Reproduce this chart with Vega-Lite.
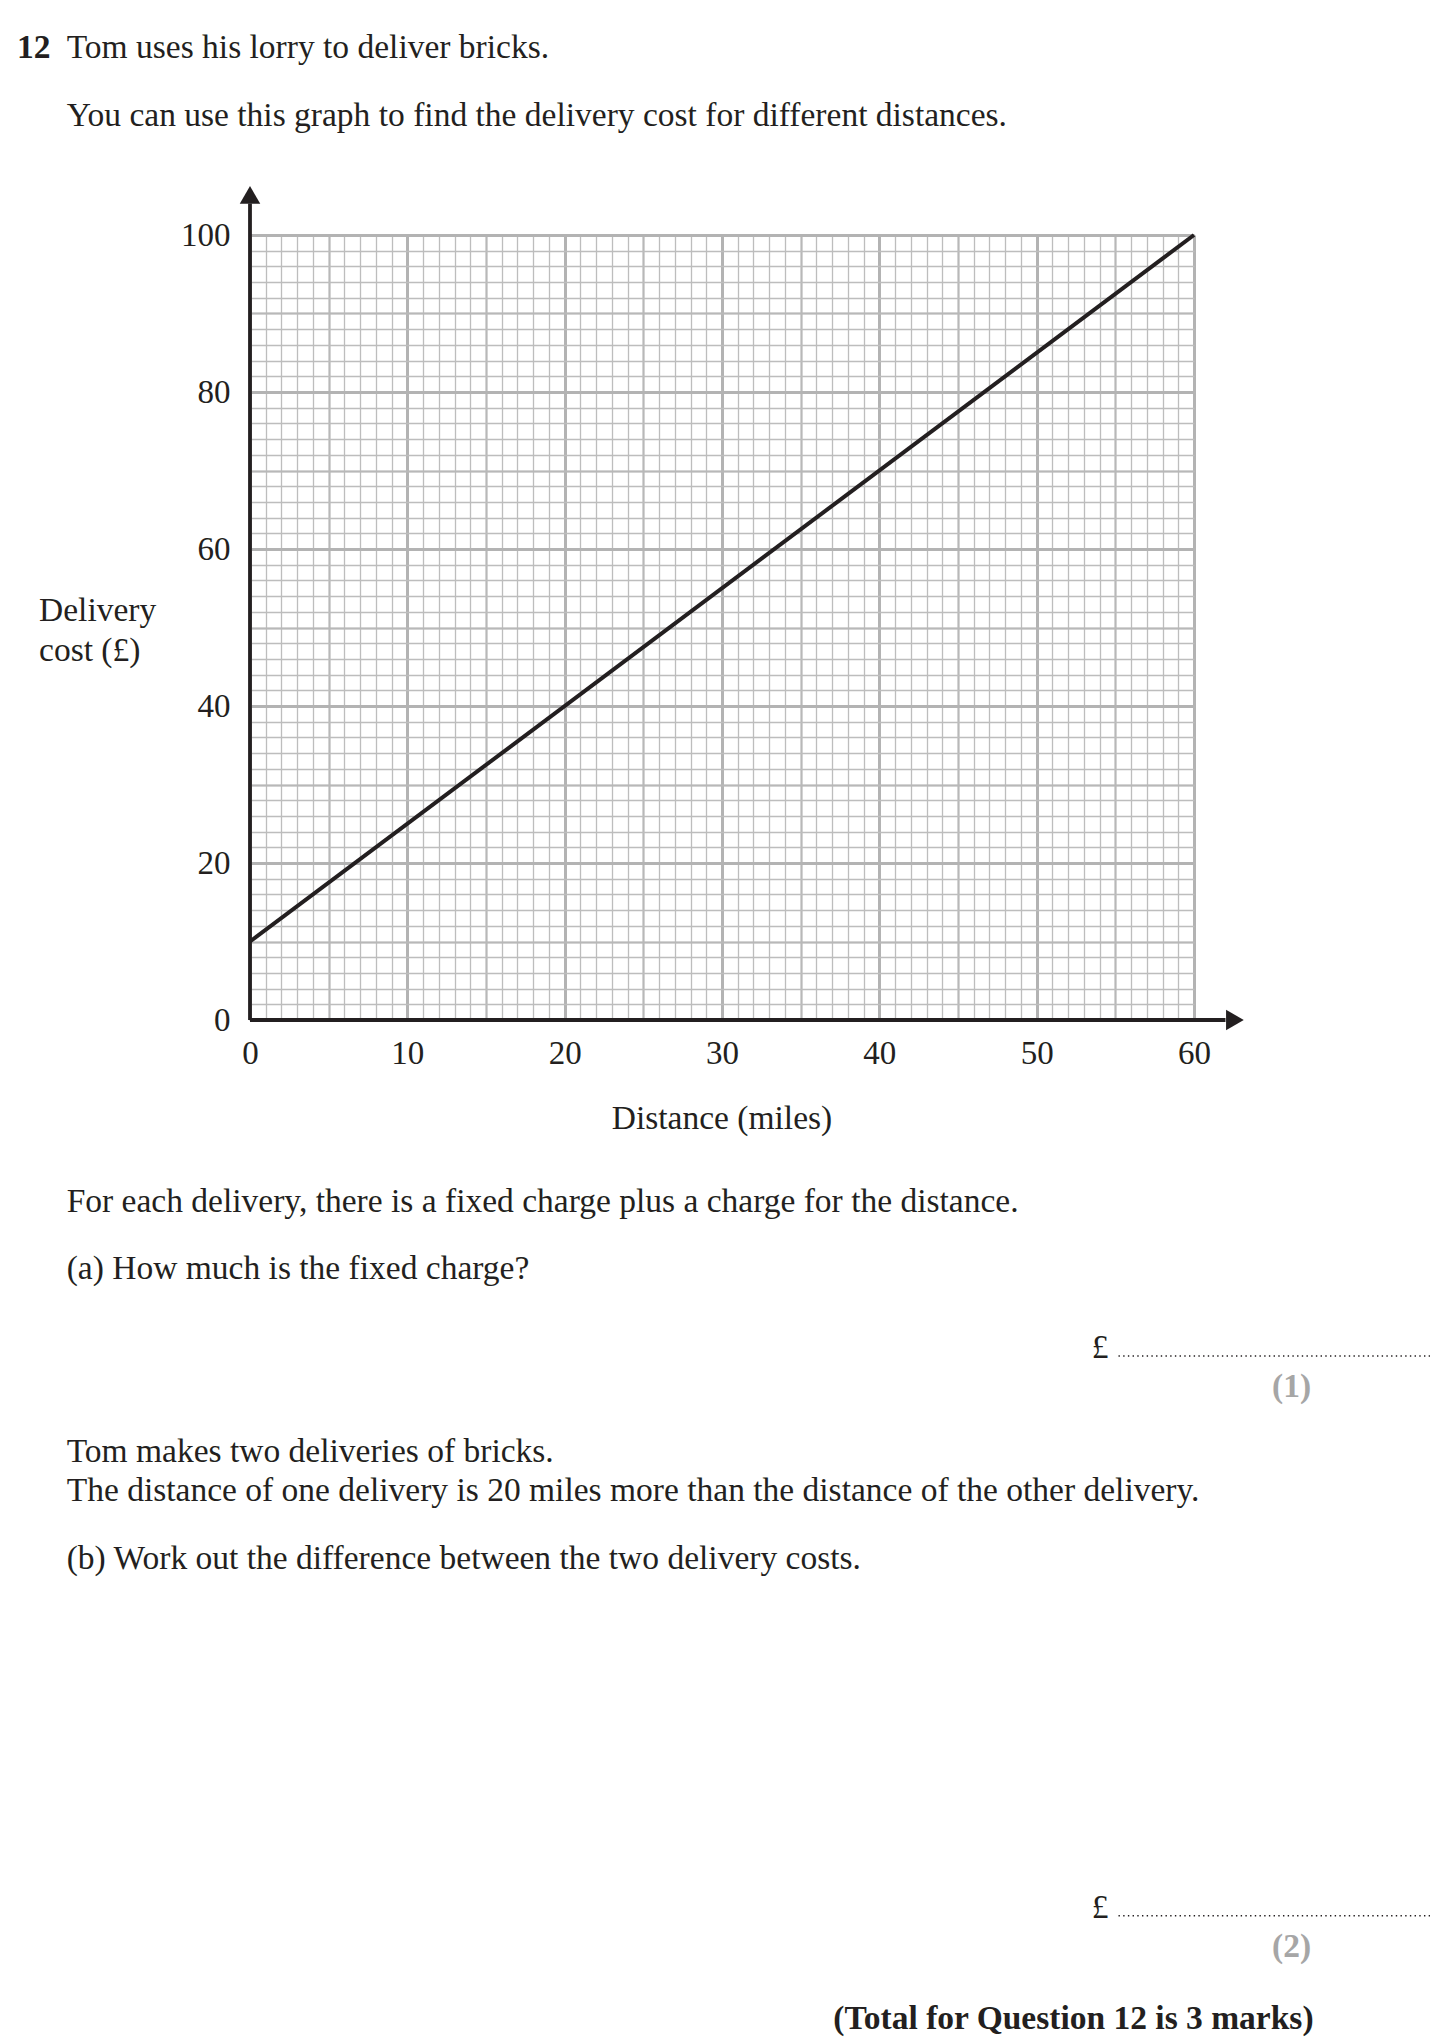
{
  "$schema": "https://vega.github.io/schema/vega-lite/v6.json",
  "width": 944,
  "height": 785,
  "autosize": "none",
  "padding": {"left": 250, "top": 235, "right": 251, "bottom": 1018},
  "background": "white",
  "config": {
    "view": {"stroke": null},
    "axis": {"labelFont": "Liberation Serif", "labelFontSize": 33, "labelColor": "#231f20", "ticks": false, "domain": false, "title": null, "gridOpacity": 1}
  },
  "datasets": {
    "cost": [{"distance": 0, "cost": 10}, {"distance": 60, "cost": 100}],
    "body": [
      {"x": -11.65, "y": 123.8, "label": "Tom uses his lorry to deliver bricks."},
      {"x": -11.65, "y": 115.2, "label": "You can use this graph to find the delivery cost for different distances."},
      {"x": -13.41, "y": 52.1, "label": "Delivery"},
      {"x": -13.41, "y": 47.0, "label": "cost (£)"},
      {"x": -11.65, "y": -23.2, "label": "For each delivery, there is a fixed charge plus a charge for the distance."},
      {"x": -11.65, "y": -31.7, "label": "(a) How much is the fixed charge?"},
      {"x": 53.5, "y": -41.8, "label": "£"},
      {"x": -11.65, "y": -55.0, "label": "Tom makes two deliveries of bricks."},
      {"x": -11.65, "y": -60.0, "label": "The distance of one delivery is 20 miles more than the distance of the other delivery."},
      {"x": -11.65, "y": -68.7, "label": "(b) Work out the difference between the two delivery costs."},
      {"x": 53.5, "y": -113.1, "label": "£"}
    ],
    "centered": [{"x": 30, "y": -12.6, "label": "Distance (miles)"}],
    "boldleft": [{"x": -14.81, "y": 123.8, "label": "12"}],
    "marks": [{"x": 66.2, "y": -46.8, "label": "(1)"}, {"x": 66.2, "y": -118.1, "label": "(2)"}],
    "total": [{"x": 67.6, "y": -127.3, "label": "(Total for Question 12 is 3 marks)"}],
    "answerlines": [{"x": 55.2, "x2": 75.0, "y": -42.8}, {"x": 55.2, "x2": 75.0, "y": -114.1}],
    "arrows": [{"x": 0, "y": 105.1, "shape": "up"}, {"x": 62.6, "y": 0, "shape": "right"}],
    "axislines": [{"x": 0, "x2": 0, "y": 0, "y2": 104}, {"x": 0, "x2": 62, "y": 0, "y2": 0}]
  },
  "layer": [
    {
      "data": {"name": "cost"},
      "mark": {"type": "line", "opacity": 0},
      "encoding": {
        "x": {"field": "distance", "type": "quantitative", "scale": {"domain": [0, 60], "nice": false, "zero": false},
          "axis": {"values": [0,1,2,3,4,5,6,7,8,9,10,11,12,13,14,15,16,17,18,19,20,21,22,23,24,25,26,27,28,29,30,31,32,33,34,35,36,37,38,39,40,41,42,43,44,45,46,47,48,49,50,51,52,53,54,55,56,57,58,59,60],
            "grid": true, "gridColor": "#bdbdbd", "gridWidth": 1.3, "labels": false, "orient": "bottom"}},
        "y": {"field": "cost", "type": "quantitative", "scale": {"domain": [0, 100], "nice": false, "zero": false},
          "axis": {"values": [0,2,4,6,8,10,12,14,16,18,20,22,24,26,28,30,32,34,36,38,40,42,44,46,48,50,52,54,56,58,60,62,64,66,68,70,72,74,76,78,80,82,84,86,88,90,92,94,96,98,100],
            "grid": true, "gridColor": "#bdbdbd", "gridWidth": 1.3, "labels": false, "orient": "left"}}
      }
    },
    {
      "data": {"name": "cost"},
      "mark": {"type": "line", "opacity": 0},
      "encoding": {
        "x": {"field": "distance", "type": "quantitative", "scale": {"domain": [0, 60], "nice": false, "zero": false},
          "axis": {"values": [5, 15, 25, 35, 45, 55], "grid": true, "gridColor": "#b8b8b8", "gridWidth": 2.1, "labels": false, "orient": "bottom"}},
        "y": {"field": "cost", "type": "quantitative", "scale": {"domain": [0, 100], "nice": false, "zero": false},
          "axis": {"values": [10, 30, 50, 70, 90], "grid": true, "gridColor": "#b8b8b8", "gridWidth": 2.1, "labels": false, "orient": "left"}}
      }
    },
    {
      "data": {"name": "cost"},
      "mark": {"type": "line", "opacity": 0},
      "encoding": {
        "x": {"field": "distance", "type": "quantitative", "scale": {"domain": [0, 60], "nice": false, "zero": false},
          "axis": {"values": [0, 10, 20, 30, 40, 50, 60], "grid": true, "gridColor": "#b3b3b3", "gridWidth": 3, "labels": true, "labelFlush": false, "labelPadding": 17, "labelFont": "Liberation Serif", "labelFontSize": 33, "labelColor": "#231f20", "orient": "bottom"}},
        "y": {"field": "cost", "type": "quantitative", "scale": {"domain": [0, 100], "nice": false, "zero": false},
          "axis": {"values": [0, 20, 40, 60, 80, 100], "grid": true, "gridColor": "#b3b3b3", "gridWidth": 3, "labels": true, "labelFlush": false, "labelPadding": 20, "labelFont": "Liberation Serif", "labelFontSize": 33, "labelColor": "#231f20", "orient": "left"}}
      }
    },
    {
      "data": {"name": "cost"},
      "mark": {"type": "line", "color": "#231f20", "strokeWidth": 4},
      "encoding": {
        "x": {"field": "distance", "type": "quantitative", "scale": {"domain": [0, 60], "nice": false, "zero": false}, "axis": null},
        "y": {"field": "cost", "type": "quantitative", "scale": {"domain": [0, 100], "nice": false, "zero": false}, "axis": null}
      }
    },
    {
      "data": {"name": "axislines"},
      "mark": {"type": "rule", "color": "#231f20", "strokeWidth": 3.8},
      "encoding": {
        "x": {"field": "x", "type": "quantitative", "scale": {"domain": [0, 60], "nice": false, "zero": false}, "axis": null},
        "x2": {"field": "x2"},
        "y": {"field": "y", "type": "quantitative", "scale": {"domain": [0, 100], "nice": false, "zero": false}, "axis": null},
        "y2": {"field": "y2"}
      }
    },
    {
      "data": {"name": "arrows"},
      "mark": {"type": "point", "filled": true, "color": "#231f20", "opacity": 1, "size": 420},
      "encoding": {
        "x": {"field": "x", "type": "quantitative", "scale": {"domain": [0, 60], "nice": false, "zero": false}, "axis": null},
        "y": {"field": "y", "type": "quantitative", "scale": {"domain": [0, 100], "nice": false, "zero": false}, "axis": null},
        "shape": {"field": "shape", "type": "nominal", "scale": {"domain": ["up", "right"], "range": ["triangle-up", "triangle-right"]}, "legend": null}
      }
    },
    {
      "data": {"name": "answerlines"},
      "mark": {"type": "rule", "color": "#231f20", "strokeWidth": 1.4, "strokeDash": [1.4, 3.3]},
      "encoding": {
        "x": {"field": "x", "type": "quantitative", "scale": {"domain": [0, 60], "nice": false, "zero": false}, "axis": null},
        "x2": {"field": "x2"},
        "y": {"field": "y", "type": "quantitative", "scale": {"domain": [0, 100], "nice": false, "zero": false}, "axis": null}
      }
    },
    {
      "data": {"name": "body"},
      "mark": {"type": "text", "font": "Liberation Serif", "fontSize": 33.5, "color": "#231f20", "align": "left", "baseline": "middle"},
      "encoding": {
        "x": {"field": "x", "type": "quantitative", "scale": {"domain": [0, 60], "nice": false, "zero": false}, "axis": null},
        "y": {"field": "y", "type": "quantitative", "scale": {"domain": [0, 100], "nice": false, "zero": false}, "axis": null},
        "text": {"field": "label"}
      }
    },
    {
      "data": {"name": "centered"},
      "mark": {"type": "text", "font": "Liberation Serif", "fontSize": 33.5, "color": "#231f20", "align": "center", "baseline": "middle"},
      "encoding": {
        "x": {"field": "x", "type": "quantitative", "scale": {"domain": [0, 60], "nice": false, "zero": false}, "axis": null},
        "y": {"field": "y", "type": "quantitative", "scale": {"domain": [0, 100], "nice": false, "zero": false}, "axis": null},
        "text": {"field": "label"}
      }
    },
    {
      "data": {"name": "boldleft"},
      "mark": {"type": "text", "font": "Liberation Serif", "fontSize": 33.5, "fontWeight": "bold", "color": "#231f20", "align": "left", "baseline": "middle"},
      "encoding": {
        "x": {"field": "x", "type": "quantitative", "scale": {"domain": [0, 60], "nice": false, "zero": false}, "axis": null},
        "y": {"field": "y", "type": "quantitative", "scale": {"domain": [0, 100], "nice": false, "zero": false}, "axis": null},
        "text": {"field": "label"}
      }
    },
    {
      "data": {"name": "marks"},
      "mark": {"type": "text", "font": "Liberation Serif", "fontSize": 33.5, "fontWeight": "bold", "color": "#a6a6a6", "align": "center", "baseline": "middle"},
      "encoding": {
        "x": {"field": "x", "type": "quantitative", "scale": {"domain": [0, 60], "nice": false, "zero": false}, "axis": null},
        "y": {"field": "y", "type": "quantitative", "scale": {"domain": [0, 100], "nice": false, "zero": false}, "axis": null},
        "text": {"field": "label"}
      }
    },
    {
      "data": {"name": "total"},
      "mark": {"type": "text", "font": "Liberation Serif", "fontSize": 33.5, "fontWeight": "bold", "color": "#231f20", "align": "right", "baseline": "middle"},
      "encoding": {
        "x": {"field": "x", "type": "quantitative", "scale": {"domain": [0, 60], "nice": false, "zero": false}, "axis": null},
        "y": {"field": "y", "type": "quantitative", "scale": {"domain": [0, 100], "nice": false, "zero": false}, "axis": null},
        "text": {"field": "label"}
      }
    }
  ],
  "resolve": {"axis": {"x": "independent", "y": "independent"}}
}
